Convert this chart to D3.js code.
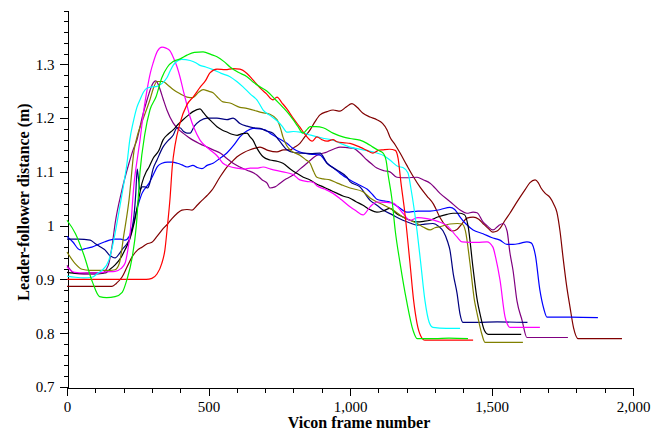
<!DOCTYPE html>
<html>
<head>
<meta charset="UTF-8">
<style>
body {margin:0; background:#fff;}
.tick text {font-family:"Liberation Serif", "Times New Roman", serif; font-size:15px; fill:#000;}
.axis path, .axis line {stroke:#000; shape-rendering:crispEdges;}
.title {font-family:"Liberation Serif", "Times New Roman", serif; font-size:16px; font-weight:bold;}
.trace {fill:none; stroke-width:1.2px;}
</style>
<script src="https://d3js.org/d3.v7.min.js"></script>
<title>Leader-follower distance</title>
</head>
<body>
<svg id="chart" width="670" height="430"></svg>
<script>
// each trace: [vicon frame, distance (m)]
var green = [[0,1.01],[30,0.985],[60,0.945],[90,0.895],[115,0.868],[140,0.866],[170,0.868],[195,0.876],[212,0.9],[230,0.94],[245,1.0],[258,1.1],[275,1.17],[293,1.215],[315,1.24],[335,1.275],[355,1.295],[375,1.305],[400,1.31],[424,1.317],[450,1.322],[481,1.323],[510,1.318],[530,1.314],[555,1.305],[576,1.295],[605,1.285],[636,1.277],[660,1.266],[682,1.258],[707,1.25],[735,1.235],[763,1.22],[780,1.21],[799,1.197],[815,1.185],[834,1.172],[850,1.18],[859,1.184],[880,1.184],[905,1.182],[940,1.172],[975,1.165],[1000,1.162],[1035,1.159],[1060,1.153],[1081,1.146],[1100,1.14],[1117,1.135],[1128,1.12],[1134,1.097],[1148,1.05],[1160,0.99],[1177,0.93],[1200,0.86],[1223,0.805],[1237,0.79],[1300,0.79],[1350,0.791],[1417,0.79]];
var red = [[0,0.9],[100,0.9],[200,0.9],[280,0.9],[300,0.902],[318,0.91],[335,0.93],[346,0.955],[355,1.0],[364,1.05],[372,1.11],[382,1.15],[399,1.19],[424,1.225],[447,1.24],[470,1.257],[490,1.27],[505,1.284],[530,1.291],[560,1.29],[587,1.292],[611,1.291],[636,1.283],[657,1.271],[682,1.256],[705,1.245],[728,1.234],[742,1.239],[760,1.228],[777,1.217],[799,1.2],[823,1.183],[848,1.165],[866,1.157],[883,1.165],[900,1.16],[919,1.157],[940,1.16],[954,1.156],[980,1.154],[1000,1.153],[1035,1.146],[1060,1.14],[1081,1.135],[1100,1.14],[1117,1.141],[1140,1.142],[1160,1.14],[1170,1.125],[1180,1.08],[1194,1.023],[1212,0.93],[1225,0.86],[1237,0.818],[1250,0.795],[1265,0.787],[1350,0.787],[1435,0.787]];
var cyan = [[0,0.906],[30,0.904],[60,0.903],[88,0.904],[110,0.912],[124,0.917],[148,0.936],[160,0.96],[170,0.986],[185,1.03],[201,1.079],[212,1.116],[222,1.16],[233,1.19],[247,1.22],[258,1.234],[270,1.248],[283,1.256],[300,1.258],[318,1.259],[335,1.264],[353,1.275],[364,1.287],[375,1.298],[390,1.306],[405,1.309],[435,1.307],[455,1.303],[470,1.298],[490,1.295],[516,1.29],[545,1.283],[576,1.277],[600,1.268],[622,1.258],[647,1.245],[671,1.234],[693,1.215],[717,1.205],[742,1.195],[760,1.185],[777,1.174],[800,1.175],[823,1.174],[850,1.17],[883,1.165],[910,1.162],[940,1.159],[970,1.152],[1000,1.146],[1046,1.141],[1095,1.135],[1120,1.13],[1141,1.122],[1170,1.11],[1187,1.108],[1205,1.098],[1215,1.07],[1237,0.99],[1250,0.93],[1265,0.86],[1280,0.82],[1293,0.811],[1340,0.809],[1389,0.809]];
var magenta = [[0,0.923],[28,0.913],[60,0.912],[100,0.912],[140,0.914],[170,0.915],[190,0.92],[205,0.93],[215,0.955],[223,0.986],[237,1.079],[250,1.13],[258,1.159],[270,1.21],[283,1.253],[295,1.285],[304,1.302],[320,1.325],[336,1.332],[350,1.33],[364,1.325],[378,1.31],[389,1.295],[400,1.275],[410,1.253],[422,1.228],[435,1.202],[450,1.18],[470,1.159],[505,1.141],[530,1.13],[551,1.116],[575,1.11],[601,1.107],[625,1.105],[647,1.107],[670,1.107],[693,1.109],[720,1.105],[763,1.1],[799,1.095],[823,1.085],[850,1.082],[869,1.081],[883,1.074],[910,1.068],[940,1.06],[970,1.048],[1000,1.035],[1020,1.028],[1046,1.02],[1071,1.035],[1095,1.044],[1130,1.043],[1152,1.042],[1187,1.023],[1212,1.01],[1240,1.015],[1272,1.013],[1310,1.008],[1343,1.0],[1378,0.979],[1396,0.97],[1450,0.969],[1484,0.97],[1505,0.96],[1515,0.94],[1530,0.899],[1548,0.83],[1555,0.818],[1565,0.811],[1620,0.811],[1671,0.811]];
var olive = [[0,0.951],[28,0.93],[53,0.919],[80,0.917],[120,0.917],[150,0.917],[170,0.918],[185,0.93],[200,0.98],[219,1.047],[237,1.14],[250,1.17],[270,1.2],[293,1.234],[305,1.255],[318,1.268],[339,1.268],[355,1.262],[375,1.253],[400,1.245],[424,1.239],[445,1.238],[465,1.248],[481,1.253],[500,1.25],[516,1.247],[535,1.237],[551,1.23],[576,1.228],[611,1.22],[635,1.218],[657,1.215],[690,1.21],[717,1.207],[742,1.197],[755,1.18],[763,1.165],[775,1.15],[788,1.141],[823,1.131],[845,1.122],[859,1.116],[872,1.1],[883,1.09],[905,1.087],[929,1.085],[955,1.079],[975,1.075],[1000,1.07],[1046,1.063],[1070,1.052],[1095,1.044],[1120,1.038],[1152,1.029],[1187,1.016],[1212,1.01],[1237,1.004],[1260,0.997],[1283,0.992],[1300,0.996],[1318,0.998],[1353,1.003],[1380,1.004],[1396,1.003],[1408,0.99],[1424,0.93],[1440,0.86],[1449,0.837],[1465,0.8],[1477,0.783],[1540,0.783],[1611,0.783]];
var black = [[0,0.913],[40,0.911],[80,0.912],[134,0.912],[150,0.918],[170,0.927],[190,0.94],[205,0.955],[222,0.975],[237,1.004],[250,1.04],[265,1.079],[280,1.1],[290,1.109],[304,1.125],[325,1.14],[339,1.159],[357,1.17],[375,1.178],[392,1.188],[410,1.197],[428,1.205],[445,1.212],[470,1.217],[482,1.21],[495,1.202],[512,1.193],[530,1.184],[548,1.178],[565,1.174],[583,1.17],[601,1.168],[620,1.171],[636,1.172],[647,1.165],[657,1.159],[670,1.145],[682,1.135],[693,1.128],[717,1.122],[740,1.12],[763,1.116],[790,1.105],[813,1.097],[835,1.09],[859,1.085],[880,1.078],[905,1.072],[930,1.066],[955,1.06],[975,1.055],[1000,1.051],[1020,1.045],[1046,1.038],[1070,1.03],[1095,1.025],[1120,1.028],[1141,1.032],[1165,1.022],[1187,1.016],[1212,1.01],[1237,1.007],[1260,1.008],[1283,1.01],[1310,1.016],[1343,1.021],[1364,1.023],[1389,1.023],[1405,1.02],[1417,1.0],[1435,0.92],[1450,0.86],[1459,0.837],[1475,0.805],[1488,0.798],[1540,0.798],[1605,0.798]];
var navy = [[0,0.975],[40,0.975],[82,0.973],[99,0.967],[120,0.96],[134,0.955],[150,0.945],[159,0.942],[170,0.94],[185,0.948],[194,0.955],[210,0.965],[219,0.973],[230,0.995],[237,1.02],[243,1.06],[248,1.105],[252,1.09],[258,1.066],[265,1.072],[276,1.072],[285,1.07],[293,1.08],[304,1.105],[318,1.122],[339,1.146],[357,1.158],[375,1.168],[389,1.182],[399,1.182],[412,1.175],[424,1.172],[435,1.172],[450,1.185],[470,1.195],[495,1.2],[530,1.2],[565,1.197],[587,1.2],[611,1.19],[636,1.185],[660,1.182],[682,1.181],[705,1.176],[728,1.172],[750,1.158],[777,1.141],[800,1.136],[823,1.135],[860,1.134],[894,1.135],[919,1.116],[955,1.103],[989,1.09],[1000,1.082],[1035,1.072],[1071,1.047],[1095,1.038],[1117,1.029],[1150,1.02],[1187,1.01],[1212,1.005],[1237,1.001],[1265,1.003],[1293,1.004],[1315,0.998],[1329,0.99],[1345,0.97],[1353,0.955],[1365,0.91],[1378,0.875],[1389,0.835],[1399,0.82],[1450,0.82],[1520,0.821],[1627,0.82]];
var blue = [[0,0.98],[20,0.97],[46,0.955],[70,0.958],[88,0.96],[110,0.965],[134,0.97],[150,0.973],[170,0.975],[190,0.975],[205,0.973],[220,0.98],[233,1.0],[247,1.03],[265,1.06],[290,1.079],[307,1.097],[320,1.11],[336,1.116],[355,1.118],[371,1.118],[390,1.116],[406,1.113],[424,1.109],[445,1.112],[460,1.108],[477,1.106],[495,1.112],[516,1.116],[540,1.125],[565,1.135],[590,1.15],[611,1.165],[635,1.176],[657,1.181],[682,1.18],[700,1.178],[717,1.172],[745,1.163],[777,1.153],[800,1.143],[823,1.137],[860,1.133],[894,1.131],[919,1.116],[940,1.108],[965,1.097],[1000,1.085],[1035,1.075],[1060,1.068],[1081,1.057],[1095,1.049],[1120,1.046],[1141,1.044],[1170,1.035],[1201,1.025],[1240,1.027],[1283,1.027],[1320,1.03],[1353,1.034],[1370,1.03],[1389,1.016],[1410,1.003],[1435,0.992],[1470,0.985],[1500,0.978],[1530,0.973],[1555,0.965],[1576,0.965],[1600,0.967],[1625,0.97],[1640,0.968],[1655,0.945],[1671,0.88],[1685,0.845],[1696,0.83],[1780,0.83],[1876,0.829]];
var purple = [[0,0.926],[28,0.911],[60,0.91],[100,0.91],[124,0.911],[140,0.92],[148,0.93],[160,0.965],[170,1.004],[194,1.066],[219,1.116],[233,1.14],[247,1.159],[265,1.2],[283,1.234],[304,1.265],[314,1.269],[322,1.263],[329,1.253],[340,1.235],[353,1.215],[375,1.191],[392,1.18],[410,1.172],[428,1.165],[445,1.159],[470,1.152],[495,1.146],[520,1.14],[541,1.135],[565,1.125],[587,1.116],[611,1.109],[636,1.103],[660,1.098],[671,1.094],[690,1.085],[707,1.079],[717,1.07],[735,1.072],[753,1.079],[775,1.087],[799,1.094],[825,1.106],[848,1.116],[880,1.13],[919,1.137],[945,1.143],[965,1.146],[990,1.145],[1011,1.144],[1035,1.135],[1060,1.122],[1078,1.114],[1095,1.107],[1120,1.102],[1141,1.1],[1166,1.09],[1200,1.089],[1237,1.09],[1260,1.085],[1283,1.079],[1318,1.06],[1353,1.045],[1389,1.029],[1413,1.023],[1435,1.025],[1449,1.024],[1470,1.007],[1484,1.0],[1505,0.992],[1525,1.0],[1541,1.004],[1555,0.99],[1565,0.95],[1576,0.917],[1590,0.86],[1608,0.824],[1625,0.792],[1700,0.792],[1770,0.792]];
var maroon = [[0,0.887],[60,0.887],[120,0.887],[159,0.887],[175,0.893],[194,0.904],[212,0.923],[230,0.942],[250,0.955],[265,0.96],[282,0.966],[300,0.969],[318,0.98],[336,0.992],[355,1.003],[371,1.013],[388,1.022],[406,1.029],[424,1.03],[442,1.029],[460,1.038],[477,1.047],[495,1.056],[512,1.066],[540,1.09],[565,1.109],[585,1.12],[601,1.128],[625,1.136],[647,1.141],[665,1.144],[682,1.146],[710,1.14],[742,1.137],[765,1.141],[788,1.141],[805,1.146],[823,1.153],[840,1.165],[859,1.178],[876,1.193],[894,1.206],[919,1.212],[940,1.215],[965,1.213],[985,1.22],[1007,1.227],[1025,1.22],[1046,1.209],[1071,1.202],[1095,1.197],[1115,1.19],[1131,1.178],[1141,1.165],[1160,1.15],[1177,1.135],[1201,1.112],[1225,1.09],[1247,1.072],[1272,1.055],[1295,1.04],[1318,1.015],[1340,0.998],[1360,0.99],[1378,0.993],[1395,1.003],[1413,1.014],[1435,1.016],[1455,1.012],[1470,1.004],[1490,0.994],[1505,0.988],[1520,0.99],[1530,0.995],[1548,1.01],[1565,1.023],[1585,1.04],[1601,1.053],[1620,1.068],[1636,1.08],[1654,1.085],[1665,1.08],[1675,1.07],[1690,1.06],[1707,1.052],[1720,1.04],[1731,1.025],[1742,0.99],[1753,0.94],[1765,0.89],[1777,0.85],[1790,0.81],[1806,0.79],[1880,0.79],[1961,0.79]];

var traces = [
    {data: maroon, color: "#800000"},
    {data: purple, color: "#800080"},
    {data: blue, color: "#0000ff"},
    {data: navy, color: "#000080"},
    {data: black, color: "#000000"},
    {data: olive, color: "#808000"},
    {data: magenta, color: "#ff00ff"},
    {data: cyan, color: "#00ffff"},
    {data: red, color: "#ff0000"},
    {data: green, color: "#00ee00"}
];

var xMajor = [0, 500, 1000, 1500, 2000];
var yMajor = [0.7, 0.8, 0.9, 1.0, 1.1, 1.2, 1.3];

var svg = d3.select("#chart");
var x = d3.scaleLinear().domain([0, 2000]).range([67, 633]);
var y = d3.scaleLinear().domain([0.7, 1.4]).range([387, 10.5]);

var xMinor = d3.range(0, 2001, 100).filter(function(v) { return v % 500 != 0; });
var yMinor = d3.range(0, 36).map(function(i) { return +(0.7 + i * 0.02).toFixed(2); })
    .filter(function(v) { return yMajor.indexOf(v) < 0; });

// minor ticks first, then the labelled ones
svg.append("g").attr("class", "axis").attr("transform", "translate(0,387.5)")
    .call(d3.axisBottom(x).tickValues(xMinor).tickSize(5).tickSizeOuter(0).tickFormat(""));
svg.append("g").attr("class", "axis").attr("transform", "translate(0,387.5)")
    .call(d3.axisBottom(x).tickValues(xMajor).tickSize(8).tickSizeOuter(0).tickPadding(6).tickFormat(d3.format(",")));

svg.append("g").attr("class", "axis").attr("transform", "translate(67.5,0)")
    .call(d3.axisLeft(y).tickValues(yMinor).tickSize(4).tickSizeOuter(0).tickFormat(""));
svg.append("g").attr("class", "axis").attr("transform", "translate(67.5,0)")
    .call(d3.axisLeft(y).tickValues(yMajor).tickSize(8).tickSizeOuter(0).tickPadding(5).tickFormat(d3.format("~g")));

var line = d3.line()
    .x(function(d) { return x(d[0]); })
    .y(function(d) { return y(d[1]); })
    .curve(d3.curveMonotoneX);

svg.append("g").selectAll("path").data(traces).enter().append("path")
    .attr("class", "trace")
    .attr("stroke", function(d) { return d.color; })
    .attr("d", function(d) { return line(d.data); });

svg.append("text").attr("class", "title")
    .attr("x", 359).attr("y", 428).attr("text-anchor", "middle")
    .text("Vicon frame number");
svg.append("text").attr("class", "title")
    .attr("transform", "translate(29,202) rotate(-90)").attr("text-anchor", "middle")
    .text("Leader-follower distance (m)");
</script>
</body>
</html>
